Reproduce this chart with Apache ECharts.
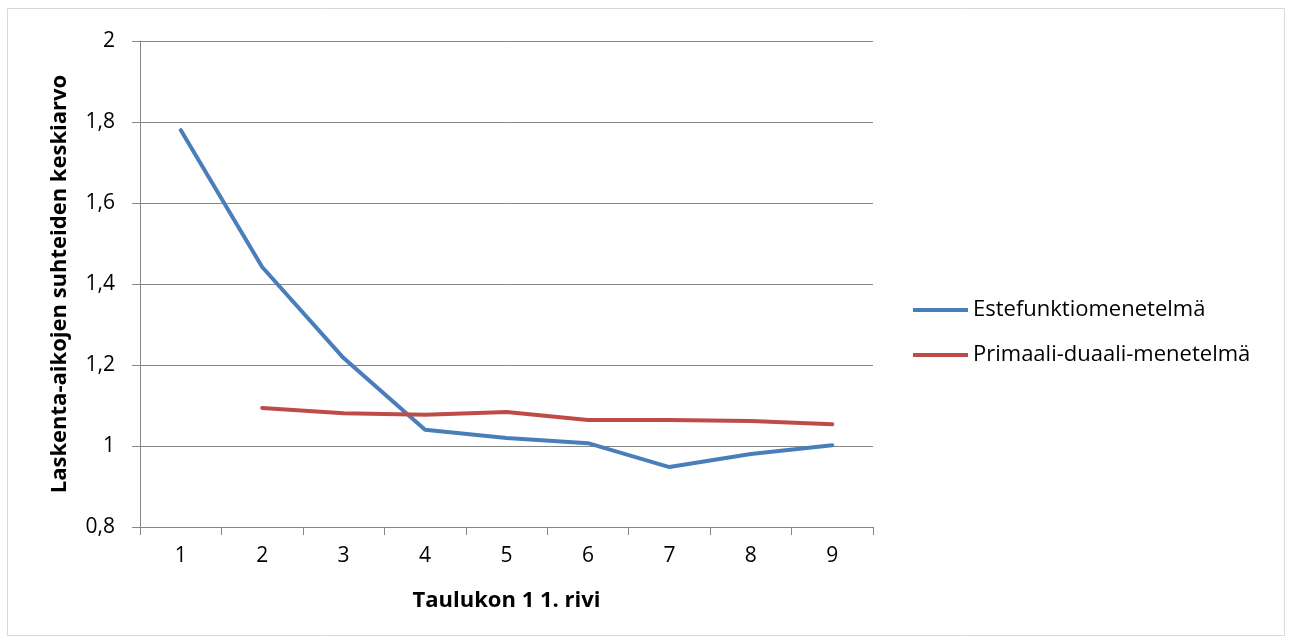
<!DOCTYPE html>
<html><head><meta charset="utf-8">
<script src="https://cdn.jsdelivr.net/npm/echarts@6/dist/echarts.min.js"></script>
<style>html,body{margin:0;padding:0;background:#fff}#c{width:1293px;height:643px}</style>
</head><body><div id="c"></div>
<script>
const categories = ['1','2','3','4','5','6','7','8','9'];
const seriesNames = ['Estefunktiomenetelmä','Primaali-duaali-menetelmä'];
const estefunktio = [1.780, 1.442, 1.217, 1.040, 1.020, 1.007, 0.948, 0.980, 1.002];
const primaaliDuaali = [null, 1.094, 1.081, 1.077, 1.084, 1.064, 1.064, 1.062, 1.054];
const yTicks = {min: 0.8, max: 2, interval: 0.2};
const xTitle = 'Taulukon 1 1. rivi';
const yTitle = 'Laskenta-aikojen suhteiden keskiarvo';

const font = '"Open Sans", "Noto Sans", sans-serif';
const chart = echarts.init(document.getElementById('c'), null, {renderer:'canvas'});
chart.setOption({
  backgroundColor:'#fff',
  animation:false,
  graphic:[{type:'rect',shape:{x:7.5,y:8.5,width:1277,height:627},style:{fill:'none',stroke:'#d9d9d9',lineWidth:1}}],
  grid:{left:140,right:420,top:41,bottom:116},
  legend:{
    orient:'vertical', left:908, top:294, itemGap:23, itemWidth:55, itemHeight:4,
    icon:'rect',
    textStyle:{fontFamily:font,fontSize:22,color:'#000'},
    data:seriesNames
  },
  xAxis:{
    type:'category', data:categories, boundaryGap:true,
    name:xTitle, nameLocation:'middle', nameGap:63,
    nameTextStyle:{fontFamily:font,fontSize:22,fontWeight:'bold',color:'#000'},
    axisLine:{lineStyle:{color:'#868686',width:1}},
    axisTick:{show:true,length:8,alignWithLabel:false,lineStyle:{color:'#868686'}},
    axisLabel:{fontFamily:font,fontSize:21,color:'#000',margin:19}
  },
  yAxis:{
    type:'value', min:yTicks.min, max:yTicks.max, interval:yTicks.interval,
    name:yTitle, nameLocation:'middle', nameGap:69, nameRotate:90,
    nameTextStyle:{fontFamily:font,fontSize:22,fontWeight:'bold',color:'#000'},
    axisLine:{show:true,lineStyle:{color:'#868686',width:1}},
    axisTick:{show:true,length:8,lineStyle:{color:'#868686'}},
    splitLine:{show:true,lineStyle:{color:'#868686',width:1}},
    axisLabel:{fontFamily:font,fontSize:21,color:'#000',margin:25,
      formatter:v=>String(Math.round(v*10)/10).replace('.',',')}
  },
  series:[
    {name:seriesNames[0],type:'line',data:estefunktio,showSymbol:false,symbol:'none',
     lineStyle:{color:'#4a7ebb',width:4,cap:'round',join:'round'},itemStyle:{color:'#4a7ebb'}},
    {name:seriesNames[1],type:'line',data:primaaliDuaali,showSymbol:false,symbol:'none',
     lineStyle:{color:'#be4b48',width:4,cap:'round',join:'round'},itemStyle:{color:'#be4b48'}}
  ]
});
</script></body></html>
